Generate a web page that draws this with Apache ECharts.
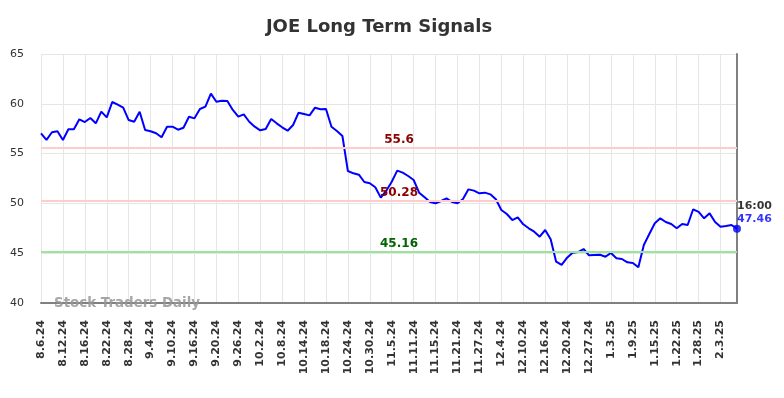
<!DOCTYPE html>
<html>
<head>
<meta charset="utf-8">
<title>JOE Long Term Signals</title>
<script src="https://cdn.jsdelivr.net/npm/echarts@6/dist/echarts.min.js"></script>
<style>
    html, body { margin: 0; padding: 0; background: #fff; }
    #signalChart { width: 784px; height: 398px; }
</style>
</head>
<body>
<div id="signalChart"></div>
<script>
// 交易日
var dates = [
    '8.6.24', '8.7.24', '8.8.24', '8.9.24', '8.12.24', '8.13.24', '8.14.24', '8.15.24',
    '8.16.24', '8.19.24', '8.20.24', '8.21.24', '8.22.24', '8.23.24', '8.26.24', '8.27.24',
    '8.28.24', '8.29.24', '8.30.24', '9.3.24', '9.4.24', '9.5.24', '9.6.24', '9.9.24',
    '9.10.24', '9.11.24', '9.12.24', '9.13.24', '9.16.24', '9.17.24', '9.18.24', '9.19.24',
    '9.20.24', '9.23.24', '9.24.24', '9.25.24', '9.26.24', '9.27.24', '9.30.24', '10.1.24',
    '10.2.24', '10.3.24', '10.4.24', '10.7.24', '10.8.24', '10.9.24', '10.10.24', '10.11.24',
    '10.14.24', '10.15.24', '10.16.24', '10.17.24', '10.18.24', '10.21.24', '10.22.24', '10.23.24',
    '10.24.24', '10.25.24', '10.28.24', '10.29.24', '10.30.24', '10.31.24', '11.1.24', '11.4.24',
    '11.5.24', '11.6.24', '11.7.24', '11.8.24', '11.11.24', '11.12.24', '11.13.24', '11.14.24',
    '11.15.24', '11.18.24', '11.19.24', '11.20.24', '11.21.24', '11.22.24', '11.25.24', '11.26.24',
    '11.27.24', '11.29.24', '12.2.24', '12.3.24', '12.4.24', '12.5.24', '12.6.24', '12.9.24',
    '12.10.24', '12.11.24', '12.12.24', '12.13.24', '12.16.24', '12.17.24', '12.18.24', '12.19.24',
    '12.20.24', '12.23.24', '12.24.24', '12.26.24', '12.27.24', '12.30.24', '12.31.24', '1.2.25',
    '1.3.25', '1.6.25', '1.7.25', '1.8.25', '1.9.25', '1.10.25', '1.13.25', '1.14.25',
    '1.15.25', '1.16.25', '1.17.25', '1.21.25', '1.22.25', '1.23.25', '1.24.25', '1.27.25',
    '1.28.25', '1.29.25', '1.30.25', '1.31.25', '2.3.25', '2.4.25', '2.5.25', '2.6.25'
];

// 收盘价
var prices = [
    57.04, 56.37, 57.14, 57.24, 56.37, 57.44, 57.44, 58.44,
    58.17, 58.57, 58.04, 59.21, 58.64, 60.18, 59.91, 59.61,
    58.37, 58.20, 59.21, 57.37, 57.24, 57.04, 56.64, 57.70,
    57.70, 57.40, 57.60, 58.70, 58.54, 59.48, 59.71, 61.02,
    60.21, 60.31, 60.28, 59.38, 58.71, 58.94, 58.20, 57.70,
    57.34, 57.47, 58.47, 58.04, 57.64, 57.30, 57.87, 59.11,
    58.98, 58.84, 59.61, 59.45, 59.48, 57.70, 57.27, 56.77,
    53.25, 53.02, 52.88, 52.15, 52.02, 51.62, 50.58, 51.28,
    52.18, 53.29, 53.09, 52.75, 52.35, 51.08, 50.61, 50.14,
    50.01, 50.24, 50.51, 50.14, 50.01, 50.45, 51.41, 51.28,
    51.01, 51.08, 50.91, 50.41, 49.34, 48.94, 48.33, 48.60,
    47.90, 47.50, 47.16, 46.66, 47.33, 46.40, 44.15, 43.82,
    44.55, 45.05, 45.12, 45.42, 44.79, 44.82, 44.85, 44.65,
    45.02, 44.49, 44.42, 44.08, 44.02, 43.58, 45.82, 46.93,
    48.00, 48.50, 48.13, 47.93, 47.50, 47.93, 47.83, 49.41,
    49.14, 48.50, 49.00, 48.13, 47.66, 47.73, 47.83, 47.46
];

// 信号线
var upperSignal = 55.6;
var middleSignal = 50.28;
var lowerSignal = 45.16;
var lastTime = '16:00';

var fontName = 'DejaVu Sans';
var lastIndex = prices.length - 1;

var signalChart = echarts.init(document.getElementById('signalChart'));
var signalChartOption = {
    animation: false,
    title: {
        text: 'JOE Long Term Signals',
        left: 374,
        textAlign: 'center',
        top: 13,
        textStyle: {
            fontFamily: fontName,
            fontSize: 18,
            fontWeight: 'bold',
            color: '#333'
        }
    },
    grid: {
        left: 41,
        right: 47,
        top: 54,
        bottom: 95
    },
    xAxis: {
        type: 'category',
        boundaryGap: false,
        data: dates,
        axisLine: {lineStyle: {color: '#808080', width: 2}},
        axisTick: {show: false},
        axisLabel: {
            interval: 3,
            rotate: 90,
            margin: 17,
            fontFamily: fontName,
            fontSize: 11,
            fontWeight: 'bold',
            color: '#333'
        },
        splitLine: {
            show: true,
            interval: 3,
            lineStyle: {color: '#e6e6e6', width: 1}
        }
    },
    yAxis: [
        {
            type: 'value',
            min: 40,
            max: 65,
            interval: 5,
            axisLine: {show: false},
            axisTick: {show: false},
            axisLabel: {
                margin: 17,
                fontFamily: fontName,
                fontSize: 11,
                color: '#333'
            },
            splitLine: {lineStyle: {color: '#e6e6e6', width: 1}}
        },
        {
            type: 'value',
            position: 'right',
            min: 40,
            max: 65,
            interval: 5,
            axisLine: {show: true, lineStyle: {color: '#808080', width: 2}},
            axisTick: {show: false},
            axisLabel: {show: false},
            splitLine: {show: false}
        }
    ],
    graphic: [
        {
            type: 'text',
            left: 54,
            top: 297,
            z: 100,
            style: {
                text: 'Stock Traders Daily',
                font: 'bold 13.4px "DejaVu Sans"',
                fill: 'rgba(150,150,150,0.85)'
            }
        }
    ],
    series: [
        {
            name: 'JOE',
            type: 'line',
            data: prices,
            showSymbol: false,
            lineStyle: {color: '#0000ff', width: 2},
            itemStyle: {color: '#0000ff'},
            markLine: {
                silent: true,
                symbol: 'none',
                data: [
                    {
                        yAxis: upperSignal,
                        lineStyle: {color: '#ffcccc', width: 2, type: 'solid'},
                        label: {color: '#8b0000'}
                    },
                    {
                        yAxis: middleSignal,
                        lineStyle: {color: '#ffcccc', width: 2, type: 'solid'},
                        label: {color: '#8b0000'}
                    },
                    {
                        yAxis: lowerSignal,
                        lineStyle: {color: '#99e699', width: 2, type: 'solid'},
                        label: {color: '#006400'}
                    }
                ],
                label: {
                    show: true,
                    position: 'middle',
                    distance: 2,
                    offset: [10, 0],
                    formatter: function (p) {
                        return p.value;
                    },
                    fontFamily: fontName,
                    fontSize: 12,
                    fontWeight: 'bold'
                }
            }
        },
        {
            name: 'last',
            type: 'scatter',
            data: [[dates[lastIndex], prices[lastIndex]]],
            symbol: 'circle',
            symbolSize: 8,
            itemStyle: {color: '#0000ff'},
            label: {
                show: true,
                position: [4, -25],
                align: 'left',
                verticalAlign: 'top',
                formatter: function (p) {
                    return '{t|' + lastTime + '}\n{v|' + p.value[1].toFixed(2) + '}';
                },
                rich: {
                    t: {fontFamily: fontName, fontSize: 11, fontWeight: 'bold', color: '#000', lineHeight: 13},
                    v: {fontFamily: fontName, fontSize: 11, fontWeight: 'bold', color: '#0000ff', lineHeight: 13}
                }
            }
        }
    ]
};
signalChart.setOption(signalChartOption);
</script>
</body>
</html>
